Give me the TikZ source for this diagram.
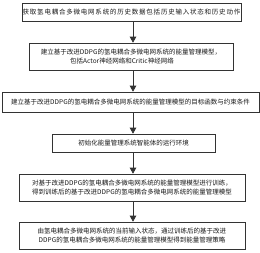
\documentclass[tikz,border=0pt]{standalone}
\usepackage{fontspec}
\newfontfamily\cjk{Noto Sans CJK SC}
\newfontfamily\cjkwide[LetterSpace=12]{Noto Sans CJK SC}
\usetikzlibrary{arrows.meta}
\tikzset{
  stepbox/.style={draw=black!80, line width=0.6pt, inner sep=0pt, align=center,
    font=\cjk\fontsize{6.5}{9.5}\selectfont, text=black!90},
  arr/.style={draw=black!80, line width=0.6pt, -{Triangle[width=6.5pt,length=6pt]}}
}
\begin{document}
\begin{tikzpicture}[x=1pt,y=-1pt]
\useasboundingbox (0,0) rectangle (260,252);
\fill[white] (0,0) rectangle (260,252);
\coordinate (ax) at (133,0);
\node[stepbox, minimum width=219pt, minimum height=18pt, font=\cjkwide\fontsize{6.5}{9.5}\selectfont] (b1) at (131.5,12)
  {获取氢电耦合多微电网系统的历史数据包括历史输入状态和历史动作};
\node[stepbox, minimum width=204pt, minimum height=27pt] (b2) at (131,56.5)
  {建立基于改进DDPG的氢电耦合多微电网系统的能量管理模型，\\包括Actor神经网络和Critic神经网络\hspace*{18pt}};
\node[stepbox, minimum width=257pt, minimum height=20pt] (b3) at (130.5,102)
  {建立基于改进DDPG的氢电耦合多微电网系统的能量管理模型的目标函数与约束条件};
\node[stepbox, minimum width=163pt, minimum height=18pt] (b4) at (133.5,143)
  {初始化能量管理系统智能体的运行环境};
\node[stepbox, minimum width=226pt, minimum height=27pt] (b5) at (132,187.5)
  {对基于改进DDPG的氢电耦合多微电网系统的能量管理模型进行训练，\\得到训练后的基于改进DDPG的氢电耦合多微电网系统的能量管理模型};
\node[stepbox, minimum width=226pt, minimum height=27pt] (b6) at (132,235.5)
  {由氢电耦合多微电网系统的当前输入状态，通过训练后的基于改进\\DDPG的氢电耦合多微电网系统的能量管理模型得到能量管理策略};
\draw[arr] (b1.south -| ax) -- (b2.north -| ax);
\draw[arr] (b2.south -| ax) -- (b3.north -| ax);
\draw[arr] (b3.south -| ax) -- (b4.north -| ax);
\draw[arr] (b4.south -| ax) -- (b5.north -| ax);
\draw[arr] (b5.south -| ax) -- (b6.north -| ax);
\end{tikzpicture}
\end{document}
